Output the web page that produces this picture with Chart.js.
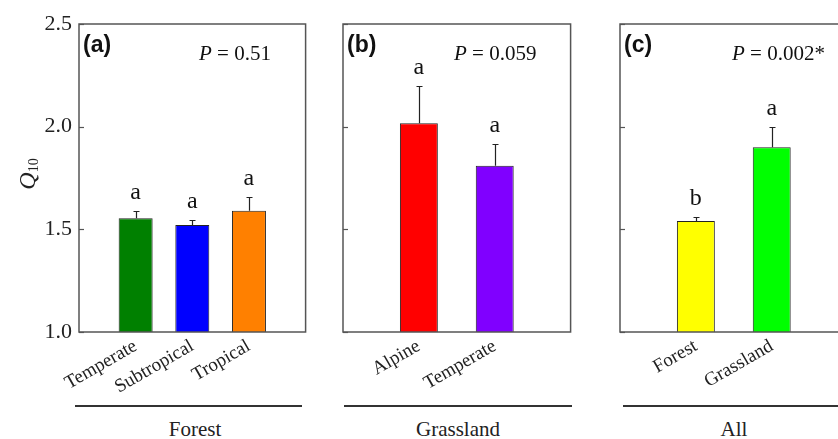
<!DOCTYPE html>
<html><head><meta charset="utf-8">
<script src="https://cdn.jsdelivr.net/npm/chart.js@4.4.0/dist/chart.umd.min.js"></script>
<style>
html,body{margin:0;padding:0;width:838px;height:439px;overflow:hidden;background:#fff;}
canvas{position:absolute;top:0;}
.grp{position:absolute;top:405px;height:0;border-top:2px solid #333;}
.glab{position:absolute;top:417px;font:21px "Liberation Serif","Times New Roman",serif;color:#222;text-align:center;}
#ytitle{position:absolute;left:-2px;top:160px;width:60px;text-align:center;transform:rotate(-90deg);transform-origin:30px 14px;font:24px "Liberation Serif",serif;color:#222;white-space:nowrap;}
#ytitle sub{font-size:14px;font-style:normal;vertical-align:-3px;}
</style></head>
<body>
<canvas id="cA" width="320" height="392" style="left:0"></canvas>
<canvas id="cB" width="255" height="392" style="left:330px"></canvas>
<canvas id="cC" width="255" height="392" style="left:607px"></canvas>
<div id="ytitle"><i>Q</i><sub>10</sub></div>
<div class="grp" style="left:75px;width:227px"></div>
<div class="grp" style="left:344px;width:228px"></div>
<div class="grp" style="left:623px;width:230px"></div>
<div class="glab" id="g0" style="left:95px;width:200px"></div>
<div class="glab" id="g1" style="left:358px;width:200px"></div>
<div class="glab" id="g2" style="left:634px;width:200px"></div>
<script>
// ---- data ----
const forestCats = ['Temperate', 'Subtropical', 'Tropical'];
const forestQ10 = [1.554, 1.521, 1.591];
const forestErr = [0.037, 0.026, 0.065];
const forestLetters = ['a', 'a', 'a'];

const grassCats = ['Alpine', 'Temperate'];
const grassQ10 = [2.017, 1.81];
const grassErr = [0.18, 0.105];
const grassLetters = ['a', 'a'];

const allCats = ['Forest', 'Grassland'];
const allQ10 = [1.541, 1.90];
const allErr = [0.018, 0.10];
const allLetters = ['b', 'a'];

const pValues = ['0.51', '0.059', '0.002*'];
const panelTags = ['(a)', '(b)', '(c)'];
const groupNames = ['Forest', 'Grassland', 'All'];
const yTicks = [1.0, 1.5, 2.0, 2.5];

// ---- styles ----
const forestColors = ['#008000', '#0000FF', '#FF8000'];
const grassColors = ['#FF0000', '#8000FF'];
const allColors = ['#FFFF00', '#00FF00'];
const SERIF = '"Liberation Serif","Times New Roman",serif';

groupNames.forEach((g, i) => document.getElementById('g' + i).textContent = g);

function makePanel(id, cats, vals, errs, letters, colors, tag, pval, cfg) {
  const labels = ['', ...cats, ''];
  const data = [null, ...vals, null];
  const bg = ['#fff', ...colors, '#fff'];
  const plugin = {
    id: 'deco' + id,
    afterDatasetsDraw(chart) {
      const ctx = chart.ctx;
      const {left, right, top, bottom} = chart.chartArea;
      const ys = chart.scales.y;
      const meta = chart.getDatasetMeta(0);
      ctx.save();
      // error bars and letters
      ctx.strokeStyle = '#222';
      ctx.lineWidth = 1.2;
      ctx.fillStyle = '#111';
      ctx.font = '24px ' + SERIF;
      ctx.textAlign = 'center';
      ctx.textBaseline = 'alphabetic';
      meta.data.forEach((bar, i) => {
        const v = data[i];
        if (v == null) return;
        const e = errs[i - 1];
        const x = Math.round(bar.x) + 0.5;
        const y0 = ys.getPixelForValue(v);
        const y1 = Math.round(ys.getPixelForValue(v + e)) + 0.5;
        ctx.beginPath();
        ctx.moveTo(x, y0);
        ctx.lineTo(x, y1);
        ctx.moveTo(x - 3, y1);
        ctx.lineTo(x + 3, y1);
        ctx.stroke();
        ctx.fillText(letters[i - 1], bar.x, y1 - 13);
      });
      // frame
      ctx.strokeStyle = '#555';
      ctx.lineWidth = 1.5;
      ctx.strokeRect(left, top, right - left, bottom - top);
      // inward y ticks
      ctx.lineWidth = 1.2;
      yTicks.forEach(t => {
        const py = Math.round(ys.getPixelForValue(t)) + 0.5;
        ctx.beginPath();
        ctx.moveTo(left, py);
        ctx.lineTo(left + 5, py);
        ctx.stroke();
      });
      // panel tag
      ctx.fillStyle = '#111';
      ctx.textAlign = 'left';
      ctx.textBaseline = 'middle';
      ctx.font = 'bold 23px "Liberation Sans",Arial,sans-serif';
      ctx.fillText(tag, left + 4, top + 22);
      // P value
      ctx.textBaseline = 'alphabetic';
      let px = left + cfg.pOffset;
      ctx.font = 'italic 21px ' + SERIF;
      ctx.fillText('P', px, top + 36);
      px += ctx.measureText('P').width;
      ctx.font = '21px ' + SERIF;
      ctx.fillText(' = ' + pval, px, top + 36);
      ctx.restore();
    }
  };
  return new Chart(document.getElementById(id), {
    type: 'bar',
    data: {
      labels,
      datasets: [{
        data,
        backgroundColor: bg,
        borderColor: '#222',
        borderWidth: 1,
        borderSkipped: false,
        barPercentage: cfg.barPct,
        categoryPercentage: 1
      }]
    },
    options: {
      responsive: false,
      animation: false,
      layout: {padding: {top: 24, right: 13, left: 0, bottom: 0}},
      plugins: {legend: {display: false}, tooltip: {enabled: false}},
      scales: {
        x: {
          offset: false,
          grid: {display: false, drawTicks: false},
          border: {display: false},
          ticks: {
            autoSkip: false, minRotation: 30, maxRotation: 30, padding: 3,
            color: '#222', font: {family: SERIF, size: 19}
          },
          afterFit(s) { s.height = 60; }
        },
        y: {
          min: 1.0, max: 2.5,
          grid: {display: false, drawTicks: false},
          border: {display: false},
          afterBuildTicks(s) { s.ticks = yTicks.map(v => ({value: v})); },
          ticks: {
            display: cfg.showY, padding: 7, color: '#222',
            font: {family: SERIF, size: 22},
            callback: v => Number(v).toFixed(1)
          },
          afterFit(s) { s.width = cfg.yWidth; }
        }
      }
    },
    plugins: [plugin]
  });
}

makePanel('cA', forestCats, forestQ10, forestErr, forestLetters, forestColors, panelTags[0], pValues[0],
  {barPct: 0.6, showY: true, yWidth: 79, pOffset: 120});
makePanel('cB', grassCats, grassQ10, grassErr, grassLetters, grassColors, panelTags[1], pValues[1],
  {barPct: 0.5, showY: false, yWidth: 13, pOffset: 111});
makePanel('cC', allCats, allQ10, allErr, allLetters, allColors, panelTags[2], pValues[2],
  {barPct: 0.5, showY: false, yWidth: 13, pOffset: 112});
</script>
</body></html>
